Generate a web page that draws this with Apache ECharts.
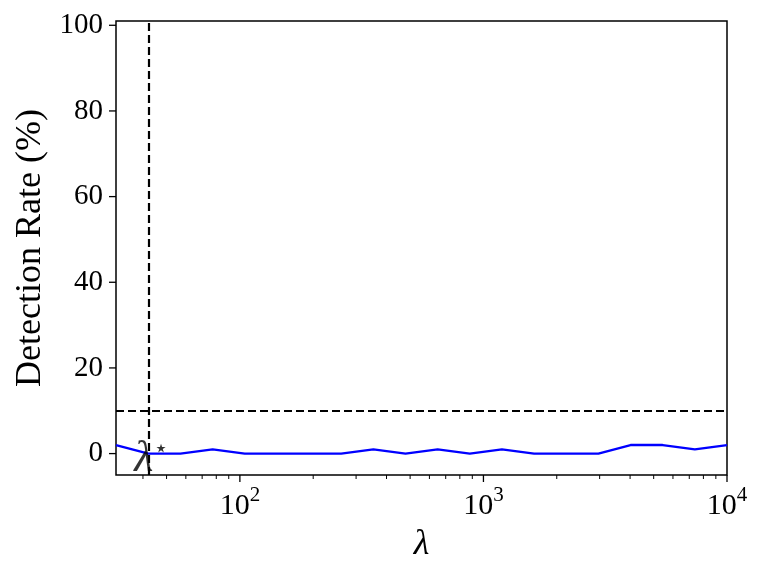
<!DOCTYPE html>
<html><head><meta charset="utf-8">
<script src="https://cdn.jsdelivr.net/npm/echarts@6/dist/echarts.min.js"></script>
<style>html,body{margin:0;padding:0;background:#fff}#c{width:762px;height:571px}</style>
</head><body><div id="c"></div>
<script>
// lambda values (x) and detection rates (%)
const lambdas = [31.0, 42.1, 57.0, 77.3, 104.7, 141.9, 192.3, 260.6, 353.2, 478.6, 648.6, 879.0, 1191, 1614, 2188, 2965, 4018, 5445, 7379, 10000];
const detectionRate = [2, 0, 0, 1, 0, 0, 0, 0, 1, 0, 1, 0, 1, 0, 0, 0, 2, 2, 1, 2];
const lambdaStar = 42.1;
const thresholdRate = 10;
const yTicks = [0, 20, 40, 60, 80, 100];
const xMajorTicks = [100, 1000, 10000];
const xMinorTicks = [40, 50, 60, 70, 80, 90, 200, 300, 400, 500, 600, 700, 800, 900, 2000, 3000, 4000, 5000, 6000, 7000, 8000, 9000];

const FONT = 'Liberation Serif';
const X_MIN = 31, X_MAX = 10000, Y_MIN = -5, Y_MAX = 101;
const chart = echarts.init(document.getElementById('c'));

function tickSeries(values, isX, len, width) {
  return {
    type: 'custom', silent: true, clip: false, z: 10,
    data: values.map(v => isX ? [v, Y_MIN] : [X_MIN, v]),
    renderItem: (params, api) => {
      const p = api.coord([api.value(0), api.value(1)]);
      const shape = isX ? {x1: p[0], y1: p[1], x2: p[0], y2: p[1] + len}
                        : {x1: p[0], y1: p[1], x2: p[0] - len, y2: p[1]};
      return {type: 'line', shape: shape, style: {stroke: '#000', lineWidth: width}};
    }
  };
}

chart.setOption({
  animation: false,
  grid: {left: 116, right: 35, top: 21, bottom: 96, show: true, borderColor: '#000', borderWidth: 1.5},
  xAxis: {
    type: 'log', min: X_MIN, max: X_MAX,
    axisLine: {show: false}, splitLine: {show: false}, axisTick: {show: false}, minorTick: {show: false},
    name: 'λ', nameLocation: 'middle', nameGap: 50,
    nameTextStyle: {fontFamily: FONT, fontStyle: 'italic', fontSize: 36, color: '#000'},
    axisLabel: {
      show: true, customValues: xMajorTicks, margin: 10,
      formatter: v => '{b|10}{s|' + Math.round(Math.log10(v)) + '}',
      rich: {
        b: {fontFamily: FONT, fontSize: 30, color: '#000'},
        s: {fontFamily: FONT, fontSize: 21, color: '#000', verticalAlign: 'top', padding: [0, 0, 22, 0]}
      }
    }
  },
  yAxis: {
    type: 'value', min: Y_MIN, max: Y_MAX,
    name: 'Detection Rate (%)', nameLocation: 'middle', nameGap: 62,
    nameTextStyle: {fontFamily: FONT, fontSize: 36, color: '#000'},
    axisLine: {show: false}, splitLine: {show: false}, axisTick: {show: false},
    axisLabel: {show: true, customValues: yTicks, margin: 13, fontFamily: FONT, fontSize: 29, color: '#000'}
  },
  series: [
    {
      type: 'line', data: lambdas.map((x, i) => [x, detectionRate[i]]),
      symbol: 'none', lineStyle: {color: '#0000ff', width: 2.3}, z: 3,
      markLine: {
        silent: true, symbol: 'none', animation: false,
        lineStyle: {color: '#000', type: [8, 4], width: 2.2},
        label: {show: false},
        data: [{yAxis: thresholdRate}, {xAxis: lambdaStar}]
      }
    },
    {
      type: 'scatter', data: [[lambdaStar, 0]], symbolSize: 0, z: 5,
      label: {
        show: true, position: 'inside', offset: [3, 6], formatter: '{l|λ}{s|⋆}',
        rich: {
          l: {fontFamily: FONT, fontStyle: 'italic', fontSize: 44, color: '#000'},
          s: {fontFamily: 'DejaVu Sans', fontSize: 24, color: '#000', verticalAlign: 'top', padding: [0, 0, 12, 0]}
        }
      }
    },
    tickSeries(xMajorTicks, true, 7, 1.3),
    tickSeries(xMinorTicks, true, 4, 1),
    tickSeries(yTicks, false, 7, 1.3)
  ]
});
</script></body></html>
